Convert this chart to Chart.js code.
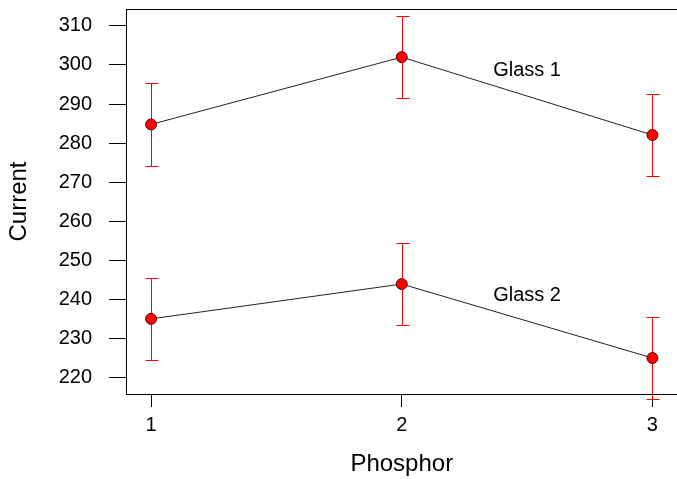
<!DOCTYPE html>
<html>
<head>
<meta charset="utf-8">
<script src="https://cdn.jsdelivr.net/npm/chart.js@4"></script>
<style>
  html, body { margin: 0; padding: 0; background: #fff; overflow: hidden; }
  #wrap { width: 684px; height: 479px; }
</style>
</head>
<body>
<div id="wrap"><canvas id="chart" width="684" height="479"></canvas></div>
<script>
// data
const phosphor = [1, 2, 3];
const glass1 = [284.8, 302.0, 282.1];
const glass2 = [235.1, 244.0, 225.1];
const glass1Err = [10.5, 10.5, 10.5];
const glass2Err = [10.5, 10.5, 10.5];
const yTicks = [220, 230, 240, 250, 260, 270, 280, 290, 300, 310];
const seriesNames = ['Glass 1', 'Glass 2'];
const namePos = [[2.5, 298.5], [2.5, 241.0]];

const FONT = "'Liberation Sans', Arial, sans-serif";

function pts(ys) {
    return phosphor.map((x, i) => ({ x: x, y: ys[i] }));
}

// red error bars, drawn under the points, not clipped
const errorBars = {
    id: 'errorBars',
    beforeDatasetsDraw(chart) {
        const ctx = chart.ctx;
        const xs = chart.scales.x, ys = chart.scales.y;
        ctx.save();
        ctx.strokeStyle = '#ff0000';
        ctx.lineWidth = 1;
        chart.data.datasets.forEach(ds => {
            ds.data.forEach((p, i) => {
                const px = Math.round(xs.getPixelForValue(p.x)) + 0.5;
                const top = Math.round(ys.getPixelForValue(p.y + ds.err[i])) + 0.5;
                const bot = Math.round(ys.getPixelForValue(p.y - ds.err[i])) + 0.5;
                ctx.beginPath();
                ctx.moveTo(px, top); ctx.lineTo(px, bot);
                ctx.moveTo(px - 6, top); ctx.lineTo(px + 7, top);
                ctx.moveTo(px - 6, bot); ctx.lineTo(px + 7, bot);
                ctx.stroke();
            });
        });
        ctx.restore();
    }
};

// frame round the plot and the series names
const frame = {
    id: 'frame',
    afterDraw(chart) {
        const ctx = chart.ctx;
        const a = chart.chartArea;
        const xs = chart.scales.x, ys = chart.scales.y;
        ctx.save();
        ctx.strokeStyle = '#000';
        ctx.lineWidth = 1;
        ctx.strokeRect(Math.round(a.left) + 0.5, Math.round(a.top) + 0.5, a.right - a.left, a.bottom - a.top);
        ctx.fillStyle = '#000';
        ctx.font = '20px ' + FONT;
        ctx.textAlign = 'center';
        ctx.textBaseline = 'middle';
        seriesNames.forEach((n, i) => {
            ctx.fillText(n, xs.getPixelForValue(namePos[i][0]), ys.getPixelForValue(namePos[i][1]));
        });
        ctx.restore();
    }
};

const common = {
    showLine: true,
    borderColor: '#222',
    borderWidth: 1,
    pointRadius: 5.5,
    pointBackgroundColor: '#ff0000',
    pointBorderColor: '#600000',
    pointBorderWidth: 1,
    tension: 0,
    clip: false
};

new Chart(document.getElementById('chart'), {
    type: 'scatter',
    data: {
        datasets: [
            Object.assign({ label: seriesNames[0], data: pts(glass1), err: glass1Err }, common),
            Object.assign({ label: seriesNames[1], data: pts(glass2), err: glass2Err }, common)
        ]
    },
    options: {
        responsive: false,
        animation: false,
        layout: { padding: { top: 9, right: 3, left: 0, bottom: 0 } },
        plugins: { legend: { display: false }, tooltip: { enabled: false } },
        scales: {
            x: {
                type: 'linear',
                min: 0.9,
                max: 3.1,
                afterBuildTicks: s => { s.ticks = phosphor.map(v => ({ value: v })); },
                afterFit: s => { s.height = 85; s.paddingLeft = 0; s.paddingRight = 0; },
                grid: { display: true, drawOnChartArea: false, drawTicks: true, tickLength: 13, color: '#000' },
                border: { display: true, color: '#000', width: 1 },
                ticks: { color: '#000', font: { family: FONT, size: 20 }, padding: 6 },
                title: { display: true, text: 'Phosphor', color: '#000', font: { family: FONT, size: 24 }, padding: { top: 0, bottom: 0 } }
            },
            y: {
                min: 215.9,
                max: 314.3,
                afterBuildTicks: s => { s.ticks = yTicks.map(v => ({ value: v })); },
                afterFit: s => { s.width = 126; s.paddingTop = 0; s.paddingBottom = 0; },
                grid: { display: true, drawOnChartArea: false, drawTicks: true, tickLength: 17, color: '#000' },
                border: { display: true, color: '#000', width: 1 },
                ticks: { color: '#000', font: { family: FONT, size: 20 }, padding: 17 },
                title: { display: true, text: 'Current', color: '#000', font: { family: FONT, size: 24 }, padding: { top: 5, bottom: 0 } }
            }
        }
    },
    plugins: [errorBars, frame]
});
</script>
</body>
</html>
